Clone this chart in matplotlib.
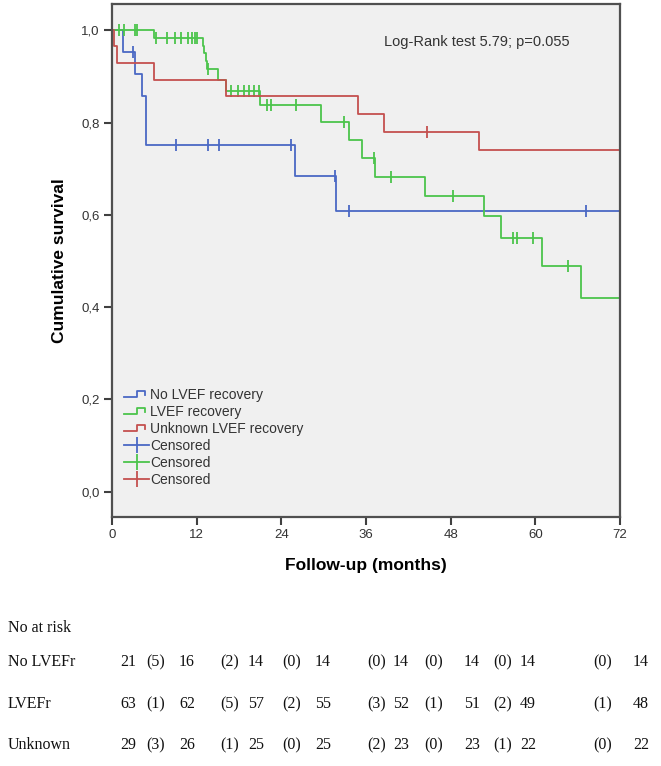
import numpy as np
import matplotlib
matplotlib.use('Agg')
import matplotlib.pyplot as plt
from matplotlib.lines import Line2D
from matplotlib.legend_handler import HandlerBase

# Kaplan-Meier steps (time in months, survival)
no_rec_t = [0, 1.5, 3.2, 4.3, 4.8, 25.9, 31.7, 72]
no_rec_s = [1.0, 0.952, 0.905, 0.857, 0.752, 0.685, 0.608, 0.608]
no_rec_cens = [3.0, 9.1, 13.6, 15.2, 25.4, 31.6, 33.6, 67.2]

rec_t = [0, 6.0, 12.9, 13.1, 13.3, 13.5, 15.0, 16.1, 21.0, 29.6, 33.6, 35.5,
         37.3, 44.3, 52.7, 55.2, 61.0, 66.5, 72]
rec_s = [1.0, 0.983, 0.967, 0.950, 0.933, 0.916, 0.893, 0.869, 0.837, 0.801,
         0.762, 0.724, 0.683, 0.641, 0.597, 0.549, 0.489, 0.420, 0.420]
rec_cens = [1.0, 1.7, 3.2, 3.6, 6.2, 7.8, 8.9, 9.8, 10.8, 11.4, 11.7, 12.0,
            13.6, 16.9, 17.9, 18.7, 19.4, 20.1, 20.9, 21.9, 22.5, 26.1, 32.9,
            37.1, 39.5, 48.4, 56.9, 57.4, 59.6, 64.6]

unk_t = [0, 0.3, 0.75, 5.95, 16.1, 34.9, 38.5, 52.0, 72]
unk_s = [1.0, 0.966, 0.930, 0.893, 0.857, 0.819, 0.779, 0.741, 0.741]
unk_cens = [44.6]

x_ticks = [0, 12, 24, 36, 48, 60, 72]
y_ticks = [0.0, 0.2, 0.4, 0.6, 0.8, 1.0]
y_tick_labels = ['0,0', '0,2', '0,4', '0,6', '0,8', '1,0']

# number-at-risk table
risk_groups = ['No LVEFr', 'LVEFr', 'Unknown']
at_risk = [[21, 16, 14, 14, 14, 14, 14, 14],
           [63, 62, 57, 55, 52, 51, 49, 48],
           [29, 26, 25, 25, 23, 23, 22, 22]]
lost = [[5, 2, 0, 0, 0, 0, 0],
        [1, 5, 2, 3, 1, 2, 1],
        [3, 1, 0, 2, 0, 1, 0]]

W, H = 661, 766
BLUE, GREEN, RED = '#4a68c4', '#4cc44c', '#c4504f'


def fx(px):
    return px / W


def fy(py):
    return 1 - py / H


def surv_at(t_steps, s_steps, t):
    idx = np.searchsorted(t_steps, t, side='right') - 1
    return np.asarray(s_steps)[idx]


class StepHandler(HandlerBase):
    def create_artists(self, legend, orig_handle, xdescent, ydescent,
                       width, height, fontsize, trans):
        xs = np.array([0, 0.5, 0.5, 0.85, 0.85]) * width - xdescent
        ys = np.array([0.2, 0.2, 0.8, 0.8, 0.45]) * height - ydescent
        ln = Line2D(xs, ys, color=orig_handle.get_color(),
                    lw=orig_handle.get_linewidth())
        ln.set_transform(trans)
        return [ln]


fig = plt.figure(figsize=(W / 100, H / 100), dpi=100)
ax = fig.add_axes([fx(112), fy(517), (620 - 112) / W, (517 - 4) / H])
ax.set_facecolor('#f0f0f0')

series = [(no_rec_t, no_rec_s, no_rec_cens, BLUE),
          (rec_t, rec_s, rec_cens, GREEN),
          (unk_t, unk_s, unk_cens, RED)]
step_handles = []
cens_handles = []
for t, s, c, col in series:
    h, = ax.step(t, s, where='post', color=col, lw=1.3)
    step_handles.append(h)
    ax.plot(c, surv_at(t, s, c), ls='none', marker='|', ms=8, mew=1.3,
            color=col)
    cens_handles.append(Line2D([], [], color=col, lw=1.3, marker='|',
                               ms=11, mew=1.3))

ax.set_xlim(0, 72)
ax.set_ylim(-0.055, 1.057)
ax.set_xticks(x_ticks)
ax.set_yticks(y_ticks)
ax.set_yticklabels(y_tick_labels)
for sp in ax.spines.values():
    sp.set_color('#505050')
    sp.set_linewidth(1.6)
ax.tick_params(direction='out', length=6, width=1.5, color='#404040',
               labelsize=9.5, labelcolor='#333333', pad=3)
for lbl in ax.get_xticklabels() + ax.get_yticklabels():
    lbl.set_fontfamily('Liberation Sans')

ax.set_ylabel('Cumulative survival', fontsize=12.5, fontweight='bold',
              family='Liberation Sans', labelpad=10)
ax.set_xlabel('Follow-up (months)', fontsize=12.5, fontweight='bold',
              family='Liberation Sans', labelpad=12)

fig.text(fx(477), fy(42), 'Log-Rank test 5.79; p=0.055', ha='center',
         va='center', fontsize=10.5, family='Liberation Sans',
         color='#333333')

leg = ax.legend(step_handles + cens_handles,
                ['No LVEF recovery', 'LVEF recovery', 'Unknown LVEF recovery',
                 'Censored', 'Censored', 'Censored'],
                handler_map={h: StepHandler() for h in step_handles},
                loc='upper left', bbox_to_anchor=(fx(124), fy(388)),
                bbox_transform=fig.transFigure, frameon=False,
                prop={'family': 'Liberation Sans', 'size': 10},
                handlelength=1.8, handletextpad=0.1, labelspacing=0.22,
                borderpad=0, borderaxespad=0)
for txt in leg.get_texts():
    txt.set_color('#333333')

# number at risk table below the chart
num_x = [128, 187, 256, 323, 401, 472, 528, 641]
par_x = [156, 230, 292, 377, 434, 503, 603]
row_y = [662, 704, 745]
tfont = dict(family='Liberation Serif', fontsize=11.5, va='center',
             color='#111111')
fig.text(fx(8), fy(628), 'No at risk', ha='left', **tfont)
for i, grp in enumerate(risk_groups):
    fig.text(fx(8), fy(row_y[i]), grp, ha='left', **tfont)
    for j, n in enumerate(at_risk[i]):
        fig.text(fx(num_x[j]), fy(row_y[i]), str(n), ha='center', **tfont)
    for j, n in enumerate(lost[i]):
        fig.text(fx(par_x[j]), fy(row_y[i]), f'({n})', ha='center', **tfont)

fig.savefig('out.png', dpi=100)
